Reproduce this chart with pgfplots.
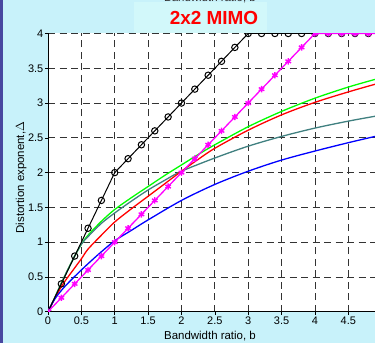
\documentclass[border=0pt]{standalone}
\usepackage{pgfplots}
\pgfplotsset{compat=1.18}
\usepackage{fontspec}
\setmainfont{Liberation Sans}
\definecolor{bgc}{RGB}{200,242,250}
\definecolor{titlebg}{RGB}{210,248,250}
\definecolor{strip}{RGB}{72,72,160}
\definecolor{teal2}{RGB}{64,128,128}
\definecolor{mgreen}{RGB}{0,255,0}
\definecolor{mmag}{RGB}{255,0,255}
\begin{document}
\begin{tikzpicture}
\fill[bgc] (-48bp,-31.3bp) rectangle (327bp,311.7bp);
\fill[strip] (-48bp,-31.3bp) rectangle (-45bp,311.7bp);
\fill[titlebg] (86bp,278.5bp) rectangle (219bp,309.7bp);
\node[anchor=base, font=\fontsize{11.5}{13}\selectfont, text=black!80] at (162bp,309.7bp) {Bandwidth ratio, b};
\begin{axis}[
  at={(0,0)}, anchor=south west,
  scale only axis, width=327bp, height=278.2bp,
  xmin=0, xmax=4.9, ymin=0, ymax=4,
  xtick={0,0.5,1,1.5,2,2.5,3,3.5,4,4.5},
  ytick={0,0.5,1,1.5,2,2.5,3,3.5,4},
  axis lines=left,
  axis line style={-, black, line width=0.8bp},
  axis background/.style={fill=white},
  grid=major,
  grid style={black!80, line width=0.8bp, dash pattern=on 7bp off 4.5bp},
  tick align=outside, major tick length=3bp,
  tick style={black, line width=0.6bp},
  /pgf/number format/assume math mode=true,
  ticklabel style={font=\fontsize{11}{12}\selectfont},
  xticklabel style={inner sep=1bp, yshift=-1bp},
  yticklabel style={inner sep=1.5bp},
  clip marker paths=true,
]
\addplot[mgreen, line width=1.3bp, smooth, tension=0.5] coordinates {
(0,0)(0.1,0.2)(0.2,0.41)(0.3,0.61)(0.4,0.8)(0.5,0.97)(0.6,1.1)(0.8,1.3)(1,1.47)(1.25,1.64)(1.5,1.8)(1.75,1.96)(2,2.11)(2.25,2.26)(2.5,2.4)(3,2.66)(3.5,2.88)(4,3.07)(4.5,3.23)(4.9,3.34)};
\addplot[teal2, line width=1.3bp, smooth, tension=0.5] coordinates {
(0,0)(0.1,0.2)(0.2,0.41)(0.3,0.61)(0.4,0.8)(0.5,0.97)(0.6,1.08)(0.8,1.27)(1,1.42)(1.25,1.59)(1.5,1.75)(1.75,1.89)(2,2.02)(2.5,2.21)(3,2.38)(3.5,2.52)(4,2.64)(4.5,2.74)(4.9,2.81)};
\addplot[red, line width=1.3bp, smooth, tension=0.5] coordinates {
(0,0)(0.2,0.36)(0.4,0.63)(0.5,0.76)(0.6,0.9)(0.8,1.1)(1,1.29)(1.25,1.48)(1.5,1.66)(1.75,1.84)(2,2.02)(2.25,2.19)(2.5,2.35)(3,2.61)(3.5,2.83)(4,3.01)(4.5,3.16)(4.9,3.27)};
\addplot[blue, line width=1.3bp, smooth, tension=0.5] coordinates {
(0,0)(0.1,0.18)(0.25,0.36)(0.5,0.6)(0.75,0.82)(1,1.02)(1.25,1.17)(1.5,1.32)(2,1.6)(2.5,1.83)(3,2.02)(3.5,2.18)(4,2.31)(4.5,2.43)(4.9,2.52)};
\addplot[black, line width=1bp, mark=o, mark size=3.2bp, mark options={solid, line width=1bp, fill=none}] coordinates {
(0,0)(0.2,0.4)(0.4,0.8)(0.6,1.2)(0.8,1.6)(1,2)(1.2,2.2)(1.4,2.4)(1.6,2.6)(1.8,2.8)(2,3)(2.2,3.2)(2.4,3.4)(2.6,3.6)(2.8,3.8)(3,4)(3.2,4)(3.4,4)(3.6,4)(3.8,4)(4,4)(4.2,4)(4.4,4)(4.6,4)(4.8,4)(5,4)};
\addplot[mmag, line width=1.3bp, mark=asterisk, mark size=3.2bp, mark options={solid, line width=1.4bp}] coordinates {
(0,0)(0.2,0.2)(0.4,0.4)(0.6,0.6)(0.8,0.8)(1,1)(1.2,1.2)(1.4,1.4)(1.6,1.6)(1.8,1.8)(2,2)(2.2,2.2)(2.4,2.4)(2.6,2.6)(2.8,2.8)(3,3)(3.2,3.2)(3.4,3.4)(3.6,3.6)(3.8,3.8)(4,4)(4.2,4)(4.4,4)(4.6,4)(4.8,4)(5,4)};
\end{axis}
\node[anchor=base, font=\fontsize{19}{21}\selectfont\bfseries, text=red] at (166bp,287bp) {2x2 MIMO};
\node[anchor=base, font=\fontsize{11.5}{13}\selectfont] at (162bp,-27.6bp) {Bandwidth ratio, b};
\node[anchor=base, rotate=90, font=\fontsize{11.5}{13}\selectfont] at (-24bp,134bp) {Distortion exponent,$\Delta$};
\pgfresetboundingbox
\useasboundingbox (-48bp,-31.3bp) rectangle (327bp,311.7bp);
\end{tikzpicture}
\end{document}
